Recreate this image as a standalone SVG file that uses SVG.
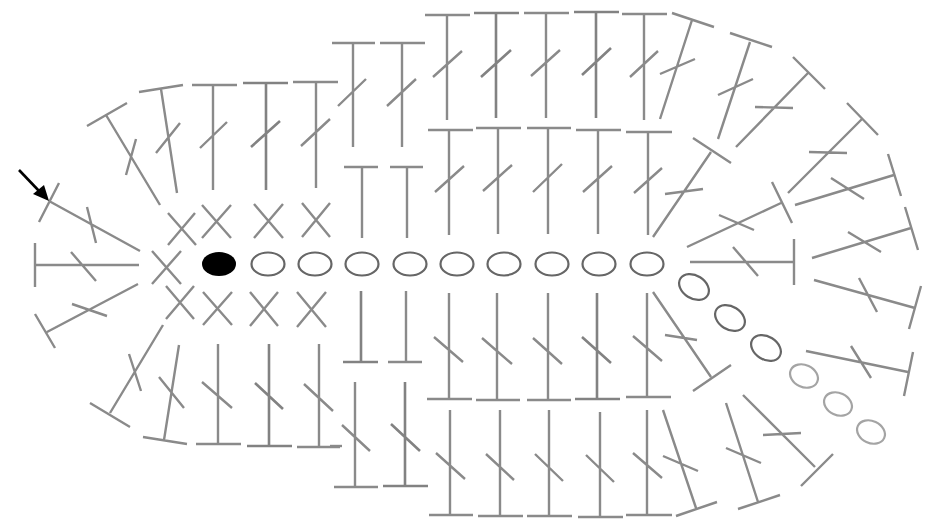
<svg xmlns="http://www.w3.org/2000/svg" width="944" height="521" viewBox="0 0 944 521">
<style>
.st{fill:none;stroke:#8a8a8a;stroke-width:2.4;stroke-linecap:butt}
.dk{stroke:#828282;stroke-width:2.6}
.ch{fill:none;stroke:#666;stroke-width:2.2}
.lt{fill:none;stroke:#a4a4a4;stroke-width:2.2}
</style>
<defs><filter id="b" x="-2%" y="-2%" width="104%" height="104%"><feGaussianBlur stdDeviation="0.6"/></filter></defs>
<rect width="944" height="521" fill="#fff"/>
<g id="stitches" filter="url(#b)">
<g id="left-fan" class="st">
<path d="M59 183L39 222M49 201L140 251M87 207L96 243"/>
<path d="M35 243V287M35 265H139M71 252L96 281"/>
<path d="M138 284L47 332M35 314L55 348M72 304L107 316"/>
<path d="M152 251L181 284M181 251L152 284"/>
</g>
<g id="upper-left" class="st">
<path d="M87 126L127 103M106 115L160 205M136 139L126 175"/>
<path d="M139 92L183 85M161 89L177 193M180 123L156 153"/>
<path d="M192 85H237M213 85V190M227 122L200 148"/>
<path class="dk" d="M243 83H288M266 83V190M280 121L251 147"/>
<path d="M293 82H338M316 82V188M330 119L301 146"/>
<path d="M195 213L168 245M168 213L196 245"/>
<path d="M202 205L231 238M231 205L202 238"/>
<path d="M254 204L283 238M283 204L254 238"/>
<path d="M302 203L330 237M330 203L302 237"/>
</g>
<g id="lower-left" class="st">
<path d="M194 286L166 319M166 286L194 319"/>
<path d="M203 325L232 292M203 292L232 325"/>
<path d="M250 326L278 292M250 292L278 326"/>
<path d="M297 327L326 292M297 292L326 327"/>
<path d="M163 325L110 413M90 403L130 427M129 354L141 391"/>
<path d="M179 345L164 440M143 437L187 444M159 377L184 408"/>
<path d="M218 344V443M196 444H241M202 382L232 408"/>
<path class="dk" d="M269 344V445M247 446H292M255 383L283 409"/>
<path d="M319 344V446M297 447H340M304 384L333 411"/>
</g>
<g id="upper-middle" class="st">
<path d="M332 43H375M353 43V147M366 79L338 106"/>
<path d="M380 43H425M402 43V147M416 79L387 106"/>
<path d="M344 167H378M362 167V238"/>
<path d="M390 167H423M407 167V238"/>
<path d="M425 15H470M447 15V120M462 51L433 77"/>
<path class="dk" d="M474 13H519M496 13V118M511 50L481 77"/>
<path d="M524 13H569M546 13V118M560 50L531 76"/>
<path class="dk" d="M574 12H619M596 12V118M611 48L582 75"/>
<path d="M622 14H667M644 14V120M658 51L630 77"/>
<path d="M428 130H473M449 130V235M464 166L435 192"/>
<path d="M476 128H521M498 128V234M512 165L483 191"/>
<path d="M527 128H571M548 128V234M562 164L533 192"/>
<path d="M576 130H621M598 130V234M612 166L583 192"/>
<path d="M626 132H672M648 132V235M662 168L634 193"/>
</g>
<g id="lower-middle" class="st">
<path class="dk" d="M361 291V362M343 362H378"/>
<path d="M406 291V362M388 362H422"/>
<path d="M449 293V398M427 399H472M434 337L463 362"/>
<path d="M497 293V400M476 400H520M482 338L512 364"/>
<path d="M548 293V400M527 400H571M533 338L562 364"/>
<path class="dk" d="M597 293V398M575 399H620M582 337L611 363"/>
<path d="M647 293V397M626 397H671M633 336L662 361"/>
<path d="M355 382V487M334 487H378M342 425L370 451"/>
<path class="dk" d="M405 382V487M383 486H428M391 424L420 451"/>
<path d="M330 446H342"/>
<path d="M450 410V515M429 515H473M436 453L465 479"/>
<path d="M500 410V516M478 516H523M486 454L514 480"/>
<path d="M549 410V516M527 516H572M535 454L563 481"/>
<path d="M600 412V517M578 517H623M586 455L614 482"/>
<path d="M647 410V515M626 515H672M633 453L662 478"/>
</g>
<g id="right-fan" class="st">
<path d="M672 13L714 27M692 20L660 119M695 59L660 74"/>
<path d="M730 33L772 47M750 42L718 139M753 79L718 95"/>
<path d="M793 57L825 89M808 73L736 147M755 107L793 108"/>
<path d="M693 138L731 163M711 152L653 237M665 194L703 189"/>
<path d="M847 103L878 135M862 119L788 193M809 152L847 153"/>
<path d="M772 182L792 223M781 203L687 247M719 215L754 230"/>
<path d="M888 154L901 196M894 175L795 205M831 178L864 199"/>
<path d="M905 207L918 250M911 228L812 258M848 232L881 252"/>
<path d="M794 239V285M690 262H794M733 247L758 276"/>
<path d="M814 280L915 308M921 286L909 329M859 278L877 312"/>
<path d="M806 351L908 372M913 352L904 396M851 346L871 378"/>
<path d="M653 292L711 377M731 365L693 391M665 335L697 340"/>
<path d="M663 410L696 508M717 502L676 516M663 456L698 471"/>
<path d="M726 403L758 502M780 495L738 509M726 448L761 463"/>
<path d="M743 395L815 467M833 454L801 486M763 435L801 433"/>
</g>
<g id="chain">
<ellipse id="start" cx="219" cy="264" rx="17" ry="12" fill="#000"/>
<ellipse class="ch" cx="268" cy="264" rx="16.5" ry="11.5"/>
<ellipse class="ch" cx="315" cy="264" rx="16.5" ry="11.5"/>
<ellipse class="ch" cx="362" cy="264" rx="16.5" ry="11.5"/>
<ellipse class="ch" cx="410" cy="264" rx="16.5" ry="11.5"/>
<ellipse class="ch" cx="457" cy="264" rx="16.5" ry="11.5"/>
<ellipse class="ch" cx="504" cy="264" rx="16.5" ry="11.5"/>
<ellipse class="ch" cx="552" cy="264" rx="16.5" ry="11.5"/>
<ellipse class="ch" cx="599" cy="264" rx="16.5" ry="11.5"/>
<ellipse class="ch" cx="647" cy="264" rx="16.5" ry="11.5"/>
<ellipse class="ch" cx="694" cy="287" rx="16" ry="11.5" transform="rotate(32 694 287)"/>
<ellipse class="ch" cx="730" cy="318" rx="16" ry="11.5" transform="rotate(32 730 318)"/>
<ellipse class="ch" cx="766" cy="348" rx="16" ry="11.5" transform="rotate(32 766 348)"/>
<ellipse class="lt" cx="804" cy="376" rx="14.5" ry="11" transform="rotate(25 804 376)"/>
<ellipse class="lt" cx="838" cy="404" rx="14.5" ry="11" transform="rotate(25 838 404)"/>
<ellipse class="lt" cx="871" cy="432" rx="14.5" ry="11" transform="rotate(25 871 432)"/>
</g>
</g>
<g id="arrow">
<line x1="19" y1="170" x2="40" y2="192" stroke="#000" stroke-width="2.6"/>
<polygon points="49,201 33,194 44,185" fill="#000"/>
</g>
</svg>
